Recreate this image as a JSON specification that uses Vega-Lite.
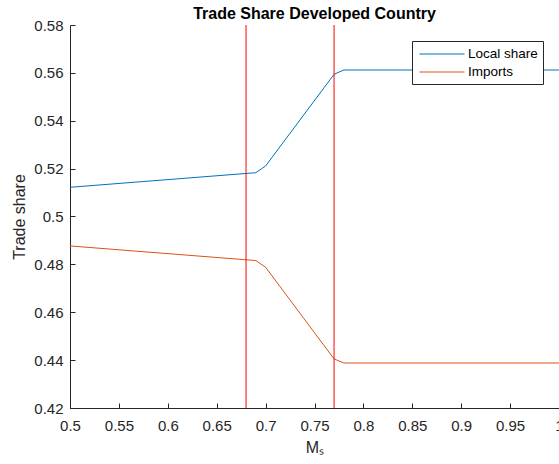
{
  "$schema": "https://vega.github.io/schema/vega-lite/v6.json",
  "width": 489,
  "height": 383,
  "autosize": "none",
  "padding": {"left": 70, "top": 25, "right": 0, "bottom": 56},
  "background": "white",
  "title": {
    "text": "Trade Share Developed Country",
    "font": "Liberation Sans",
    "fontSize": 16,
    "fontWeight": "bold",
    "color": "#000000",
    "anchor": "middle",
    "offset": -4
  },
  "config": {
    "view": {"stroke": null},
    "font": "Liberation Sans",
    "axis": {
      "grid": false,
      "domainColor": "#262626",
      "tickColor": "#262626",
      "labelColor": "#262626",
      "titleColor": "#262626",
      "labelFont": "Liberation Sans",
      "titleFont": "Liberation Sans",
      "labelFontSize": 15,
      "titleFontSize": 16,
      "titleFontWeight": "normal",
      "tickSize": -5,
      "domainWidth": 1,
      "tickWidth": 1
    }
  },
  "datasets": {
    "shares": [
      {"series": "Local share", "ms": 0.5, "share": 0.5122},
      {"series": "Local share", "ms": 0.69, "share": 0.5183},
      {"series": "Local share", "ms": 0.7, "share": 0.5211},
      {"series": "Local share", "ms": 0.77, "share": 0.5594},
      {"series": "Local share", "ms": 0.78, "share": 0.5612},
      {"series": "Local share", "ms": 1.0, "share": 0.5612},
      {"series": "Imports", "ms": 0.5, "share": 0.4877},
      {"series": "Imports", "ms": 0.69, "share": 0.4816},
      {"series": "Imports", "ms": 0.7, "share": 0.4788},
      {"series": "Imports", "ms": 0.77, "share": 0.4405},
      {"series": "Imports", "ms": 0.78, "share": 0.4388},
      {"series": "Imports", "ms": 1.0, "share": 0.4388}
    ],
    "thresholds": [
      {"ms": 0.68},
      {"ms": 0.77}
    ]
  },
  "layer": [
    {
      "data": {"name": "shares"},
      "mark": {"type": "line", "strokeWidth": 1, "clip": true},
      "encoding": {
        "x": {
          "field": "ms",
          "type": "quantitative",
          "scale": {"domain": [0.5, 1], "nice": false, "zero": false},
          "axis": {
            "title": "Mₛ",
            "values": [0.5, 0.55, 0.6, 0.65, 0.7, 0.75, 0.8, 0.85, 0.9, 0.95, 1],
            "format": ".2~f",
            "labelPadding": 15,
            "titlePadding": 6,
            "labelFlush": false,
            "labelOverlap": false
          }
        },
        "y": {
          "field": "share",
          "type": "quantitative",
          "scale": {"domain": [0.42, 0.58], "nice": false, "zero": false},
          "axis": {
            "title": "Trade share",
            "values": [0.42, 0.44, 0.46, 0.48, 0.5, 0.52, 0.54, 0.56, 0.58],
            "format": ".2~f",
            "labelPadding": 12,
            "titlePadding": 6,
            "labelFlush": false,
            "labelOverlap": false
          }
        },
        "color": {
          "field": "series",
          "type": "nominal",
          "sort": ["Local share", "Imports"],
          "scale": {"domain": ["Local share", "Imports"], "range": ["#0072BD", "#D95319"]},
          "legend": {
            "title": null,
            "orient": "none",
            "legendX": 342,
            "legendY": 16,
            "symbolType": "M-3,0H3",
            "symbolSize": 225,
            "symbolOffset": 17,
            "symbolStrokeWidth": 1,
            "labelFont": "Liberation Sans",
            "labelFontSize": 13.5,
            "labelColor": "#000000",
            "labelOffset": 18,
            "strokeColor": "#262626",
            "fillColor": "white",
            "padding": 5,
            "rowPadding": 3
          }
        }
      }
    },
    {
      "data": {"name": "thresholds"},
      "mark": {"type": "rule", "color": "#FF0000", "strokeWidth": 1},
      "encoding": {
        "x": {"field": "ms", "type": "quantitative"}
      }
    }
  ]
}
